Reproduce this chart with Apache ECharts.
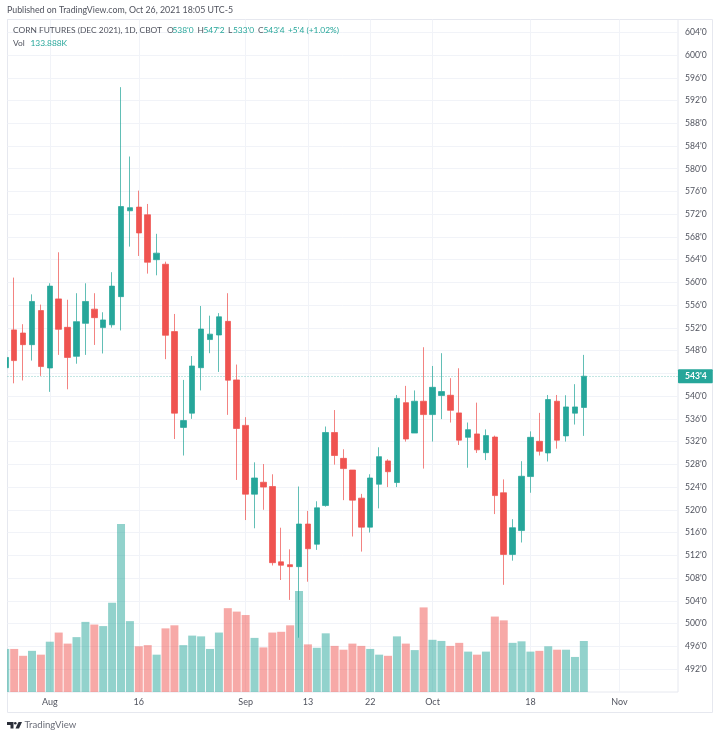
<!DOCTYPE html>
<html><head><meta charset="utf-8">
<style>html,body{margin:0;padding:0;background:#fff}#c{width:720px;height:738px;filter:blur(0.35px)}</style>
<script src="https://cdn.jsdelivr.net/npm/echarts@6/dist/echarts.min.js"></script>
</head><body><div id="c"></div>
<script>
const categories = ['Jul 26','Jul 27','Jul 28','Jul 29','Jul 30','Aug 2','Aug 3','Aug 4','Aug 5','Aug 6','Aug 9','Aug 10','Aug 11','Aug 12','Aug 13','Aug 16','Aug 17','Aug 18','Aug 19','Aug 20','Aug 23','Aug 24','Aug 25','Aug 26','Aug 27','Aug 30','Aug 31','Sep 1','Sep 2','Sep 3','Sep 7','Sep 8','Sep 9','Sep 10','Sep 13','Sep 14','Sep 15','Sep 16','Sep 17','Sep 20','Sep 21','Sep 22','Sep 23','Sep 24','Sep 27','Sep 28','Sep 29','Sep 30','Oct 1','Oct 4','Oct 5','Oct 6','Oct 7','Oct 8','Oct 11','Oct 12','Oct 13','Oct 14','Oct 15','Oct 18','Oct 19','Oct 20','Oct 21','Oct 22','Oct 25','Oct 26'];
const opens = [545,551.65,551.1,549.05,555.05,544.95,557.1,552.1,547,552.8,555.3,552.05,552.55,557.5,572.6,573.25,571.9,564,563.2,551.35,534.5,537,545,549.95,550.75,553.15,542.85,534.85,522.75,524.85,524.1,510.85,510.35,510,517.5,513.95,520.75,533.6,529.05,527,522.05,516.95,524.5,528.6,524.8,538.85,533.5,539.1,536.75,540.1,540.15,537.05,532.75,533.35,530.05,532.8,523,512.15,516.35,525.85,532.05,530,539.1,533,537,538];
const closes = [546.8,546.25,549.05,556.65,545.2,559.35,551.75,546.8,553.1,556.65,553.8,553.4,559.35,573.35,573.15,568.7,563.55,565.15,550.7,537,535.7,545.3,551.8,550.9,553.95,542.8,534.3,522.75,525.6,524,510.7,510.25,510,517.5,513.15,520.35,533.6,529.55,527.25,521.7,516.95,525.6,529.35,526.7,539.6,532.45,539.1,536.75,541.55,540.8,537.5,532.25,534.1,530.55,533.05,522.5,512.15,516.85,525.9,532.75,530.3,539.4,532.25,538.1,538.1,543.5];
const lows = [544,542.25,542.75,546.25,543.55,540.75,547.25,541.2,545.7,547.25,549,547.5,552.05,551.55,566.3,564.65,561.55,561.25,546.5,532.45,529.55,536,541,547.55,544.25,536.7,525.25,518.2,516.75,520,510.2,507.65,504.15,497.5,507.35,512.95,520.55,527.95,521.7,515.3,512.65,516,520.25,524,524,532,533.5,527.25,532,535.95,535.35,531.4,527.4,530,528.75,519.25,506.8,511.05,514.25,523,529.55,528.5,530.75,532,535,533];
const highs = [547.5,560.85,552.65,557.9,556.1,559.85,565.3,556.95,558.1,559.85,558.1,554.75,561.8,594.35,582.15,576.15,573.8,568.55,563.65,554.45,542.85,547.05,555.85,554.15,554.6,558.1,545.55,536.3,528.35,528.05,526.25,516.85,513.05,524.1,519.8,521.5,534.65,537.55,530.65,527,522.8,526.25,531,528.9,540.2,541.8,541,548.6,545.3,547.55,543.15,544.9,535.35,538.85,534.15,533.05,525.35,518.35,528.55,533.8,537.05,540.2,540.2,540.15,542.1,547.25];
const volumes = [113,113,95,108,98,132,156,127,144,184,177,173,234,441,186,120,123,98,167,175,123,148,146,113,156,220,211,202,142,117,156,158,175,265,125,116,154,121,111,127,121,113,98,95,146,127,110,222,137,134,121,129,106,98,106,198,188,129,133,106,108,120,111,111,92,133.888];
const priceTicks = [492,496,500,504,508,512,516,520,524,528,532,536,540,544,548,552,556,560,564,568,572,576,580,584,588,592,596,600,604];
const timeTickIndex = [5,15,27,34,41,48,59,69];
const timeTickLabels = ['Aug','16','Sep','13','22','Oct','18','Nov'];
const lastPrice = 543.5;
const lastPriceLabel = "543'4";

const UP = '#26a69a', DOWN = '#ef5350';
const UP_EDGE = 'rgba(38,166,154,0.72)', DOWN_EDGE = 'rgba(239,83,80,0.72)';
const GRID = '#f1f3f8', FRAME = '#e6e8ef', TXT = '#50535e';
const chart = echarts.init(document.getElementById('c'), null, {renderer:'canvas'});

const candleData = categories.map((d,i)=>[i,opens[i],closes[i],lows[i],highs[i]]);
const volumeData = categories.map((d,i)=>({
  value:[i,volumes[i]],
  itemStyle:{color: closes[i]>=opens[i] ? 'rgba(38,166,154,0.5)' : 'rgba(239,83,80,0.5)'}
}));
const FONT = 'Lato,"Open Sans",sans-serif';
const legendBits = [
  [13,26.5,'CORN FUTURES (DEC 2021), 1D, CBOT',TXT],
  [167,26.5,'O',TXT],[172.5,26.5,"538'0",UP],
  [197.5,26.5,'H',TXT],[203.5,26.5,"547'2",UP],
  [228,26.5,'L',TXT],[233,26.5,"533'0",UP],
  [258,26.5,'C',TXT],[263.5,26.5,"543'4",UP],
  [288,26.5,"+5'4 (+1.02%)",UP],
  [13,39,'Vol',TXT],[30.5,39,'133.888K',UP]
];

chart.setOption({
  animation:false,
  backgroundColor:'#fff',
  textStyle:{fontFamily:FONT},
  grid:{left:7.5,top:19.5,width:670.5,height:672.5,show:true,borderColor:FRAME,borderWidth:1,backgroundColor:'transparent',containLabel:false},
  xAxis:{
    type:'value',min:0.247,max:75.58,
    axisLine:{show:false},
    axisTick:{show:false,customValues:timeTickIndex},
    axisLabel:{customValues:timeTickIndex,color:TXT,fontSize:9,margin:6,
      formatter:v=>timeTickLabels[timeTickIndex.indexOf(v)]||''},
    splitLine:{show:true,lineStyle:{color:GRID,width:1}}
  },
  yAxis:[{
    type:'value',position:'right',min:487.95,max:606.25,scale:true,
    axisLine:{show:false},
    axisTick:{show:false,customValues:priceTicks},
    axisLabel:{customValues:priceTicks,color:TXT,fontSize:8.6,margin:7,align:'left',
      formatter:v=>v===544?'':v+"'0"},
    splitLine:{show:true,lineStyle:{color:GRID,width:1}}
  },{
    type:'value',min:0,max:1765,show:false,splitLine:{show:false}
  }],
  series:[
    {type:'bar',name:'Vol',xAxisIndex:0,yAxisIndex:1,data:volumeData,barWidth:8,z:1,silent:true},
    {type:'candlestick',name:'CORN',xAxisIndex:0,yAxisIndex:0,data:candleData,barWidth:6,z:3,
      encode:{x:0,y:[1,2,3,4]},
      itemStyle:{color:UP,color0:DOWN,borderColor:UP_EDGE,borderColor0:DOWN_EDGE,borderWidth:1},
      markLine:{
        silent:true,symbol:'none',z:2,animation:false,
        lineStyle:{color:'rgba(38,166,154,0.55)',type:[1,2],width:1},
        label:{show:true,position:'end',distance:0,formatter:lastPriceLabel,color:'#fff',fontSize:8.6,fontWeight:700,opacity:1,
          backgroundColor:UP,padding:[3,6,2,7],borderRadius:1},
        data:[{yAxis:lastPrice}]
      }
    }
  ],
  graphic:[
    {type:'rect',z:100,shape:{x:0,y:15,width:7,height:680},style:{fill:'#fff'},silent:true},
    {type:'rect',z:-1,shape:{x:7.5,y:19.5,width:705,height:693},style:{fill:'none',stroke:FRAME,lineWidth:1},silent:true},
    {type:'text',x:7,y:6,z:50,style:{text:'Published on TradingView.com, Oct 26, 2021 18:05 UTC-5',fill:TXT,fontSize:8.8,fontFamily:FONT}},
    ...legendBits.map(b=>({type:'text',x:b[0],y:b[1],z:50,style:{text:b[2],fill:b[3],fontSize:8.4,fontFamily:FONT}})),
    {type:'polygon',shape:{points:[[7,722],[13.5,722],[13.5,728.5],[10.5,728.5],[10.5,725],[7,725]]},style:{fill:'#2a2e39'},silent:true},
    {type:'polygon',shape:{points:[[18.5,722],[22,722],[19,728.5],[15.5,728.5]]},style:{fill:'#2a2e39'},silent:true},
    {type:'circle',shape:{cx:15.3,cy:723.3,r:1.3},style:{fill:'#2a2e39'},silent:true},
    {type:'text',x:24.5,y:720,z:50,style:{text:'TradingView',fill:'#6a6d78',fontSize:9.6,fontFamily:FONT}}
  ]
});
</script></body></html>
